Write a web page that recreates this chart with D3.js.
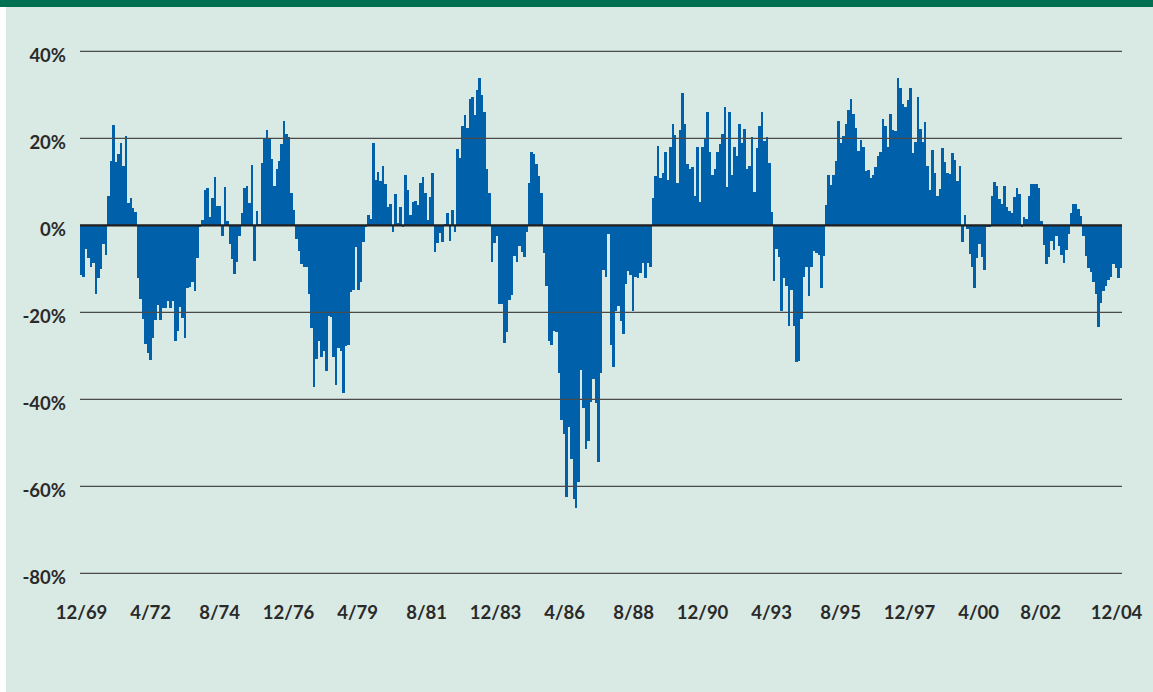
<!DOCTYPE html>
<html><head><meta charset="utf-8">
<script src="https://cdn.jsdelivr.net/npm/d3@7"></script>
<style>html,body{margin:0;padding:0;background:#fff;} svg{display:block;}</style>
</head><body><svg id="chart" width="1153" height="692"></svg>
<script>
// Monthly values, 12/69 .. 12/04 (percent)
const values = [
 -11.4,-11.8,-5.4,-7.6,-9.5,-8.7,-15.7,-12.2,-10.0,-4.2,-6.8,6.8,
 14.8,23.1,14.6,16.3,19.0,13.6,20.5,5.1,6.2,4.0,3.0,-12.0,
 -17.0,-21.6,-27.3,-29.4,-30.9,-26.0,-21.8,-18.3,-21.8,-19.0,-18.9,-17.5,
 -18.9,-17.5,-26.7,-24.2,-18.7,-21.2,-26.0,-14.5,-14.2,-13.0,-15.2,-7.6,
 -0.5,1.2,8.1,8.5,2.0,6.2,11.0,4.4,4.4,-2.4,8.7,0.9,
 -4.3,-7.8,-11.1,-8.5,-2.4,2.8,8.5,9.0,5.2,13.9,-8.1,3.3,
 0.2,14.3,20.0,21.9,20.0,15.2,9.1,13.0,14.8,18.7,24.0,21.1,
 20.4,7.4,3.5,-3.2,-5.8,-9.0,-9.5,-9.7,-15.9,-23.7,-37.1,-30.8,
 -26.6,-30.2,-28.9,-33.6,-20.8,-21.0,-30.3,-36.6,-28.1,-28.8,-38.6,-27.7,
 -27.5,-15.4,-14.9,-5.0,-14.9,-13.0,-3.8,-0.5,2.4,1.5,18.9,10.4,
 12.3,10.2,13.7,9.4,4.1,4.8,-1.6,7.1,0.6,4.3,-0.5,11.6,
 8.1,2.4,5.4,5.6,4.7,9.7,11.2,7.5,1.2,6.6,12.0,-6.1,
 -4.1,-1.8,-3.8,0.3,2.8,-3.5,3.5,-1.5,17.5,15.4,22.8,25.4,
 22.3,29.0,29.5,25.4,31.1,33.8,30.0,26.1,12.9,7.4,-8.5,-4.0,
 -2.4,-18.2,-18.2,-27.1,-24.6,-17.2,-16.0,-7.0,-8.5,-4.8,-6.1,-7.2,
 -1.6,9.7,16.8,16.3,14.0,11.3,7.4,-6.4,-13.9,-26.6,-27.5,-24.4,
 -24.6,-33.9,-44.8,-48.0,-62.4,-46.4,-53.8,-62.9,-64.9,-58.9,-33.3,-41.9,
 -51.5,-49.7,-40.7,-35.4,-40.9,-54.3,-33.9,-10.3,-11.8,-2.0,-27.5,-32.5,
 -19.8,-18.5,-21.9,-25.0,-13.6,-10.4,-11.4,-19.6,-11.8,-12.0,-10.9,-8.6,
 -12.0,-8.7,-9.5,6.2,11.4,18.2,10.8,12.0,16.8,10.3,17.9,23.4,
 20.8,9.7,21.8,30.5,23.2,14.0,12.9,13.3,6.8,18.1,5.4,18.1,
 20.0,26.1,16.8,11.6,12.9,16.8,18.6,21.0,27.3,8.9,26.1,11.6,
 18.1,15.9,23.2,18.9,22.1,12.9,13.7,20.2,7.6,17.7,22.9,26.1,
 19.4,20.4,14.3,3.1,-12.8,-5.5,-7.2,-19.6,-12.2,-13.9,-23.1,-14.9,
 -23.1,-31.5,-31.3,-21.5,-11.8,-9.7,-16.2,-9.5,-5.8,-6.4,-6.8,-14.3,
 -7.0,4.7,11.6,9.3,11.6,14.8,24.0,18.9,20.6,23.4,26.5,29.0,
 25.7,22.3,17.1,19.5,18.0,12.5,12.7,10.8,11.6,13.3,15.9,16.8,
 24.4,22.8,18.1,25.7,21.9,21.7,33.8,31.5,28.0,27.3,28.8,31.5,
 16.6,19.2,29.4,22.1,19.2,23.8,13.7,8.1,17.2,12.0,6.7,8.4,
 17.7,14.6,12.1,11.8,16.6,14.9,10.2,13.7,-3.8,2.4,-0.8,-6.6,
 -9.5,-14.3,-7.6,-4.3,-7.2,-10.3,-0.5,-0.5,6.8,10.0,9.0,6.0,
 5.0,9.1,4.1,3.4,2.9,6.4,8.5,7.2,-0.5,1.8,1.5,6.7,
 9.4,9.4,9.4,8.5,1.1,-4.5,-9.0,-7.2,-3.5,-5.6,-2.4,-4.8,
 -6.8,-8.6,-5.7,-1.9,2.8,5.0,5.0,3.7,2.1,-2.4,-7.0,-9.9,
 -10.7,-13.0,-15.9,-23.3,-17.9,-15.0,-13.9,-12.6,-11.8,-8.9,-9.9,-12.0,
 -9.9
];
const yTicks = [40, 20, 0, -20, -40, -60, -80];
const xTickLabels = ["12/69","4/72","8/74","12/76","4/79","8/81","12/83","4/86",
                     "8/88","12/90","4/93","8/95","12/97","4/00","8/02","12/04"];
const labelStep = 28; // months between x labels

const svg = d3.select("#chart");
const W = 1153, H = 692;

// background
svg.append("rect").attr("x",0).attr("y",0).attr("width",W).attr("height",H).attr("fill","#ffffff");
svg.append("rect").attr("x",6).attr("y",0).attr("width",W-6).attr("height",H).attr("fill","#d9e9e3");
svg.append("rect").attr("x",0).attr("y",0).attr("width",W).attr("height",7).attr("fill","#007052");

const idx = d3.range(values.length);
const x = d3.scaleBand().domain(idx).range([80, 1122]).padding(0);
const y = d3.scaleLinear().domain([-80, 40]).range([573.3, 51.3]);
const xl = d3.scaleLinear().domain([0, values.length - 1]).range([81.6, 1116.6]);

// bars
svg.append("g").attr("shape-rendering", "crispEdges")
  .selectAll("rect").data(values).join("rect")
  .attr("x", (d,i) => x(i))
  .attr("width", x.bandwidth())
  .attr("y", d => y(Math.max(0, d)))
  .attr("height", d => Math.abs(y(d) - y(0)))
  .attr("fill", "#0060a9");

// gridlines (on top)
svg.append("g").selectAll("line").data(yTicks.filter(t => t !== 0)).join("line")
  .attr("x1", 80).attr("x2", 1122)
  .attr("y1", d => y(d)).attr("y2", d => y(d))
  .attr("stroke", "#4a4a4a").attr("stroke-width", 1.3);
svg.append("line").attr("x1", 80).attr("x2", 1122)
  .attr("y1", y(0)).attr("y2", y(0))
  .attr("stroke", "#1f1f1f").attr("stroke-width", 2.2);

// y labels
svg.append("g").selectAll("text").data(yTicks).join("text")
  .attr("x", 66).attr("y", d => y(d) + 10.4)
  .attr("text-anchor", "end")
  .attr("font-family", "Lato, 'Open Sans', sans-serif")
  .attr("font-weight", 700).attr("font-size", 18.5)
  .attr("fill", "#2a2a2a")
  .text(d => d + "%");

// x labels
svg.append("g").selectAll("text").data(xTickLabels).join("text")
  .attr("x", (d,i) => xl(i * labelStep) + (d === "8/02" ? -7 : 0))
  .attr("y", 619.3)
  .attr("text-anchor", "middle")
  .attr("font-family", "Lato, 'Open Sans', sans-serif")
  .attr("font-weight", 700).attr("font-size", 18.5)
  .attr("fill", "#2a2a2a")
  .text(d => d);
</script>
</body></html>
